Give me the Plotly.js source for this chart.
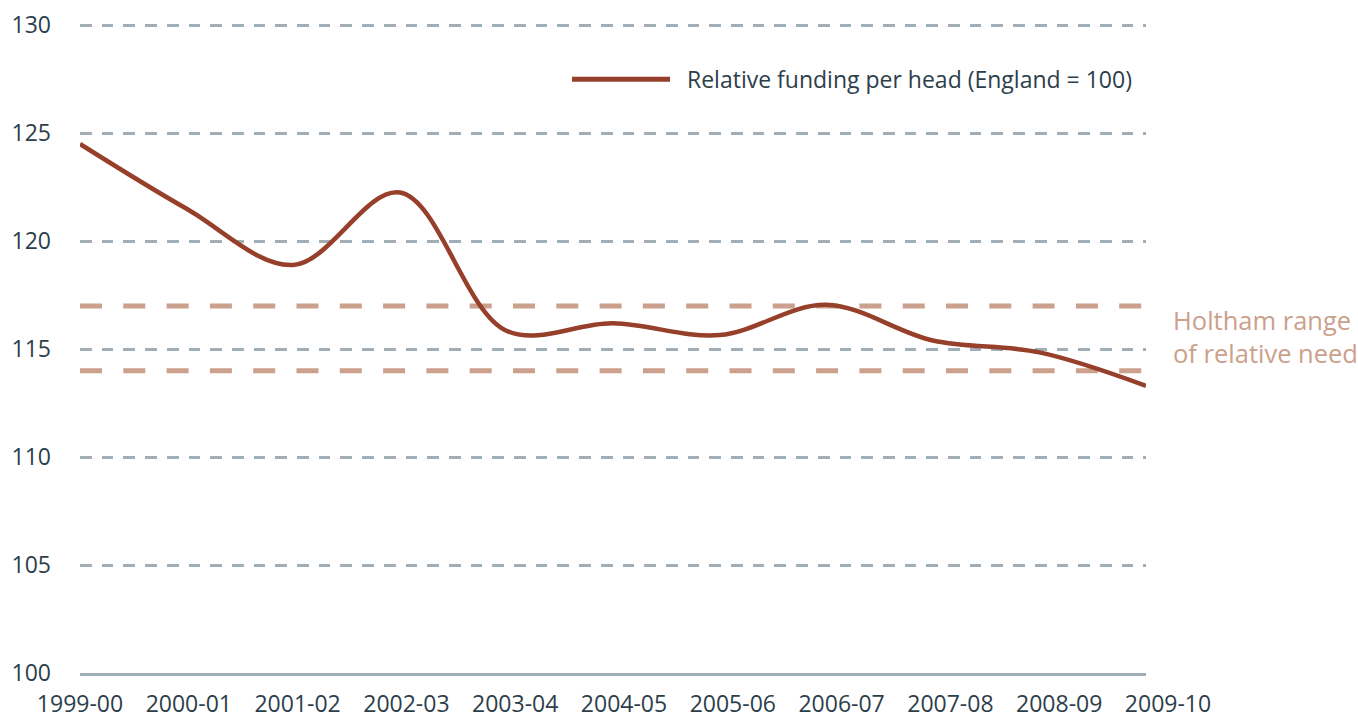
<!DOCTYPE html>
<html>
<head>
<meta charset="utf-8">
<script src="https://cdn.plot.ly/plotly-3.0.1.min.js"></script>
<style>html,body{margin:0;padding:0;background:#fff}#chart{width:1358px;height:718px}</style>
</head>
<body>
<div id="chart"></div>
<script>
const years = ['1999-00','2000-01','2001-02','2002-03','2003-04','2004-05','2005-06','2006-07','2007-08','2008-09','2009-10'];
const fundingPerHead = [124.5, 121.5, 118.9, 122.25, 115.85, 116.2, 115.65, 117.05, 115.4, 114.85, 113.3];
const holthamHigh = 117;
const holthamLow = 114;
const yTicks = [100, 105, 110, 115, 120, 125, 130];
const seriesName = 'Relative funding per head (England = 100)';
const holthamLabel = ['Holtham range', 'of relative need'];

const textColor = '#2d3e4b';
const gridColor = '#a0aeb8';
const lineColor = '#963f2a';
const holthamColor = '#cba08c';
const FONT = '"Open Sans", "Noto Sans", sans-serif';

const ends = [years[0], years[years.length - 1]];

const traces = [
  {x: ends, y: [holthamHigh, holthamHigh], type: 'scatter', mode: 'lines', xaxis: 'x', yaxis: 'y',
   line: {color: holthamColor, width: 5, dash: '22px,21.3px'}, hoverinfo: 'skip', showlegend: false},
  {x: ends, y: [holthamLow, holthamLow], type: 'scatter', mode: 'lines', xaxis: 'x', yaxis: 'y',
   line: {color: holthamColor, width: 5, dash: '22px,21.3px'}, hoverinfo: 'skip', showlegend: false},
  {x: years, y: fundingPerHead, name: seriesName, type: 'scatter', mode: 'lines', xaxis: 'x', yaxis: 'y',
   line: {color: lineColor, width: 4.5, shape: 'spline', smoothing: 1}, showlegend: false},
  {x: years, y: years.map(() => null), type: 'scatter', mode: 'lines', xaxis: 'x2', yaxis: 'y2',
   hoverinfo: 'skip', showlegend: false}
];

const YMAX = 130.15;
const L = 80, R = 1168, B = 673;
const T = 25 - (YMAX - 130) * (B - 25) / 30;
const px = v => (v - L) / (R - L);
const py = v => (B - v) / (B - T);

const layout = {
  width: 1358, height: 718,
  margin: {l: L, r: 1358 - R, t: T, b: 718 - B},
  paper_bgcolor: '#ffffff', plot_bgcolor: 'rgba(0,0,0,0)',
  showlegend: false,
  font: {family: FONT, color: textColor, size: 23},
  xaxis: {
    type: 'category', categoryorder: 'array', categoryarray: years,
    domain: [0, (1146 - L) / (R - L)], range: [0, years.length - 1],
    showgrid: false, zeroline: false, showticklabels: false, ticks: '',
    showline: true, linecolor: gridColor, linewidth: 3, anchor: 'y', fixedrange: true
  },
  yaxis: {
    range: [100, YMAX], tickvals: yTicks, ticktext: yTicks.map(String),
    showgrid: true, gridcolor: gridColor, gridwidth: 3, griddash: '11.7px,10px',
    zeroline: false, showline: false, ticks: '', ticklabelstandoff: 28,
    tickfont: {family: FONT, size: 23, color: textColor}, anchor: 'x', fixedrange: true
  },
  xaxis2: {
    type: 'category', categoryorder: 'array', categoryarray: years,
    domain: [0, 1], range: [0, years.length - 1], anchor: 'y2',
    showgrid: false, zeroline: false, showline: false, ticks: '', ticklabelstandoff: 15,
    tickfont: {family: FONT, size: 23, color: textColor}, fixedrange: true
  },
  yaxis2: {
    domain: [0, 1], range: [100, YMAX], anchor: 'x2',
    showgrid: false, zeroline: false, showline: false, showticklabels: false, ticks: '', fixedrange: true
  },
  shapes: [
    {type: 'line', xref: 'paper', yref: 'paper', x0: px(572), x1: px(670), y0: py(79), y1: py(79),
     line: {color: lineColor, width: 5}}
  ],
  annotations: [
    {xref: 'paper', yref: 'paper', x: px(685), y: py(79), xanchor: 'left', yanchor: 'middle',
     text: seriesName, showarrow: false, font: {family: FONT, size: 23, color: textColor}},
    {xref: 'paper', yref: 'paper', x: px(1171), y: py(320), xanchor: 'left', yanchor: 'middle',
     text: holthamLabel[0], showarrow: false, font: {family: FONT, size: 25.5, color: holthamColor}},
    {xref: 'paper', yref: 'paper', x: px(1171), y: py(353), xanchor: 'left', yanchor: 'middle',
     text: holthamLabel[1], showarrow: false, font: {family: FONT, size: 25.5, color: holthamColor}}
  ]
};

Plotly.newPlot('chart', traces, layout, {displayModeBar: false, staticPlot: true});
</script>
</body>
</html>
